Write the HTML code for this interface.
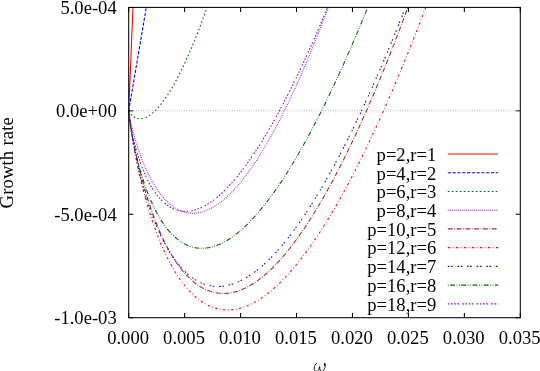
<!DOCTYPE html>
<html><head><meta charset="utf-8"><title>Growth rate</title>
<style>html,body{margin:0;padding:0;background:#fff;}body{width:540px;height:371px;overflow:hidden;}svg{display:block;will-change:transform;opacity:0.999;}text{font-family:"Liberation Serif",serif;font-size:18.6px;fill:#000;}</style></head><body>
<svg width="540" height="371" viewBox="0 0 540 371">
<defs><clipPath id="c"><rect x="128.70" y="7.40" width="391.60" height="310.30"/></clipPath></defs>
<line x1="128.70" y1="110.83" x2="520.30" y2="110.83" stroke="#000" stroke-opacity="0.45" stroke-width="0.8" stroke-dasharray="0.8 1.6"/>
<g clip-path="url(#c)" fill="none" stroke-width="1.08">
<polyline points="128.70,110.83 129.48,91.99 130.27,73.15 131.05,54.32 131.83,35.48 132.62,16.64 133.40,-2.20" stroke="#ff0000"/>
<polyline points="128.70,110.83 129.48,106.23 130.27,101.63 131.05,97.02 131.83,92.42 132.62,87.82 133.40,83.22 134.18,78.61 134.97,74.01 135.75,69.41 136.53,64.81 137.32,60.20 138.10,55.60 138.88,51.00 139.66,46.39 140.45,41.79 141.23,37.19 142.01,32.59 142.80,27.98 143.58,23.38 144.36,18.78 145.15,14.17 145.93,9.57 146.71,4.97 147.50,0.37" stroke="#0000ff" stroke-dasharray="3.20 1.60"/>
<polyline points="128.70,110.83 129.48,112.25 130.27,113.38 131.05,114.33 131.83,115.15 132.62,115.86 133.40,116.46 134.18,116.98 134.97,117.42 135.75,117.78 136.53,118.07 137.32,118.30 138.10,118.47 138.88,118.58 139.66,118.63 140.45,118.63 141.23,118.58 142.01,118.48 142.80,118.34 143.58,118.14 144.36,117.91 145.15,117.63 145.93,117.30 146.71,116.94 147.50,116.54 148.28,116.10 149.06,115.62 149.85,115.11 150.63,114.56 151.41,113.97 152.20,113.35 152.98,112.70 153.76,112.01 154.55,111.29 155.33,110.54 156.11,109.76 156.90,108.95 157.68,108.10 158.46,107.23 159.24,106.33 160.03,105.40 160.81,104.44 161.59,103.45 162.38,102.44 163.16,101.39 163.94,100.33 164.73,99.23 165.51,98.11 166.29,96.96 167.08,95.79 167.86,94.59 168.64,93.37 169.43,92.12 170.21,90.85 170.99,89.56 171.78,88.24 172.56,86.90 173.34,85.53 174.13,84.14 174.91,82.73 175.69,81.30 176.48,79.84 177.26,78.37 178.04,76.87 178.82,75.34 179.61,73.80 180.39,72.24 181.17,70.65 181.96,69.05 182.74,67.42 183.52,65.77 184.31,64.11 185.09,62.42 185.87,60.71 186.66,58.99 187.44,57.24 188.22,55.47 189.01,53.69 189.79,51.88 190.57,50.06 191.36,48.22 192.14,46.36 192.92,44.48 193.71,42.58 194.49,40.66 195.27,38.73 196.06,36.77 196.84,34.80 197.62,32.81 198.40,30.81 199.19,28.78 199.97,26.74 200.75,24.68 201.54,22.61 202.32,20.51 203.10,18.40 203.89,16.28 204.67,14.13 205.45,11.97 206.24,9.79 207.02,7.60 207.80,5.39 208.59,3.16 209.37,0.92" stroke="#006400" stroke-dasharray="1.60 2.40"/>
<polyline points="128.70,110.83 129.48,115.35 130.27,119.26 131.05,122.87 131.83,126.26 132.62,129.46 133.40,132.52 134.18,135.44 134.97,138.24 135.75,140.94 136.53,143.54 137.32,146.05 138.10,148.47 138.88,150.81 139.66,153.08 140.45,155.27 141.23,157.40 142.01,159.47 142.80,161.47 143.58,163.42 144.36,165.30 145.15,167.14 145.93,168.92 146.71,170.65 147.50,172.33 148.28,173.96 149.06,175.55 149.85,177.09 150.63,178.59 151.41,180.04 152.20,181.46 152.98,182.83 153.76,184.16 154.55,185.46 155.33,186.72 156.11,187.94 156.90,189.12 157.68,190.27 158.46,191.39 159.24,192.47 160.03,193.51 160.81,194.53 161.59,195.51 162.38,196.46 163.16,197.38 163.94,198.27 164.73,199.13 165.51,199.96 166.29,200.76 167.08,201.53 167.86,202.28 168.64,202.99 169.43,203.68 170.21,204.34 170.99,204.98 171.78,205.59 172.56,206.17 173.34,206.73 174.13,207.26 174.91,207.77 175.69,208.25 176.48,208.71 177.26,209.14 178.04,209.55 178.82,209.94 179.61,210.31 180.39,210.65 181.17,210.97 181.96,211.26 182.74,211.54 183.52,211.79 184.31,212.02 185.09,212.23 185.87,212.42 186.66,212.58 187.44,212.73 188.22,212.86 189.01,212.96 189.79,213.05 190.57,213.11 191.36,213.16 192.14,213.18 192.92,213.19 193.71,213.18 194.49,213.14 195.27,213.09 196.06,213.02 196.84,212.93 197.62,212.83 198.40,212.70 199.19,212.56 199.97,212.39 200.75,212.22 201.54,212.02 202.32,211.80 203.10,211.57 203.89,211.32 204.67,211.05 205.45,210.77 206.24,210.47 207.02,210.15 207.80,209.82 208.59,209.47 209.37,209.10 210.15,208.72 210.94,208.32 211.72,207.90 212.50,207.47 213.29,207.02 214.07,206.56 214.85,206.08 215.64,205.59 216.42,205.08 217.20,204.55 217.98,204.01 218.77,203.46 219.55,202.89 220.33,202.30 221.12,201.70 221.90,201.08 222.68,200.45 223.47,199.81 224.25,199.15 225.03,198.48 225.82,197.79 226.60,197.09 227.38,196.37 228.17,195.64 228.95,194.90 229.73,194.14 230.52,193.37 231.30,192.58 232.08,191.79 232.87,190.97 233.65,190.15 234.43,189.31 235.22,188.45 236.00,187.59 236.78,186.71 237.56,185.82 238.35,184.91 239.13,183.99 239.91,183.06 240.70,182.12 241.48,181.16 242.26,180.19 243.05,179.21 243.83,178.21 244.61,177.20 245.40,176.18 246.18,175.15 246.96,174.11 247.75,173.05 248.53,171.98 249.31,170.90 250.10,169.80 250.88,168.70 251.66,167.58 252.45,166.45 253.23,165.31 254.01,164.15 254.80,162.99 255.58,161.81 256.36,160.62 257.14,159.42 257.93,158.21 258.71,156.99 259.49,155.75 260.28,154.50 261.06,153.25 261.84,151.98 262.63,150.70 263.41,149.41 264.19,148.10 264.98,146.79 265.76,145.46 266.54,144.13 267.33,142.78 268.11,141.42 268.89,140.05 269.68,138.67 270.46,137.28 271.24,135.88 272.03,134.47 272.81,133.05 273.59,131.61 274.38,130.17 275.16,128.72 275.94,127.25 276.72,125.78 277.51,124.29 278.29,122.79 279.07,121.29 279.86,119.77 280.64,118.24 281.42,116.70 282.21,115.16 282.99,113.60 283.77,112.03 284.56,110.45 285.34,108.87 286.12,107.27 286.91,105.66 287.69,104.04 288.47,102.41 289.26,100.78 290.04,99.13 290.82,97.47 291.61,95.80 292.39,94.13 293.17,92.44 293.96,90.75 294.74,89.04 295.52,87.32 296.30,85.60 297.09,83.87 297.87,82.12 298.65,80.37 299.44,78.61 300.22,76.83 301.00,75.05 301.79,73.26 302.57,71.46 303.35,69.65 304.14,67.83 304.92,66.01 305.70,64.17 306.49,62.32 307.27,60.47 308.05,58.60 308.84,56.73 309.62,54.85 310.40,52.96 311.19,51.06 311.97,49.15 312.75,47.23 313.54,45.30 314.32,43.37 315.10,41.42 315.88,39.47 316.67,37.51 317.45,35.54 318.23,33.56 319.02,31.57 319.80,29.57 320.58,27.57 321.37,25.55 322.15,23.53 322.93,21.50 323.72,19.46 324.50,17.41 325.28,15.35 326.07,13.29 326.85,11.21 327.63,9.13 328.42,7.04 329.20,4.94 329.98,2.83 330.77,0.72" stroke="#9400d3" stroke-dasharray="0.80 1.20"/>
<polyline points="128.70,110.83 129.48,117.26 130.27,122.72 131.05,127.73 131.83,132.42 132.62,136.87 133.40,141.11 134.18,145.18 134.97,149.09 135.75,152.87 136.53,156.52 137.32,160.05 138.10,163.48 138.88,166.81 139.66,170.04 140.45,173.19 141.23,176.25 142.01,179.24 142.80,182.15 143.58,185.00 144.36,187.77 145.15,190.48 145.93,193.13 146.71,195.72 147.50,198.25 148.28,200.72 149.06,203.14 149.85,205.51 150.63,207.82 151.41,210.09 152.20,212.31 152.98,214.49 153.76,216.61 154.55,218.70 155.33,220.74 156.11,222.74 156.90,224.70 157.68,226.62 158.46,228.50 159.24,230.34 160.03,232.14 160.81,233.91 161.59,235.64 162.38,237.33 163.16,239.00 163.94,240.62 164.73,242.22 165.51,243.78 166.29,245.31 167.08,246.81 167.86,248.28 168.64,249.71 169.43,251.12 170.21,252.50 170.99,253.85 171.78,255.17 172.56,256.46 173.34,257.72 174.13,258.96 174.91,260.17 175.69,261.35 176.48,262.51 177.26,263.64 178.04,264.74 178.82,265.82 179.61,266.88 180.39,267.91 181.17,268.92 181.96,269.90 182.74,270.86 183.52,271.79 184.31,272.71 185.09,273.60 185.87,274.46 186.66,275.31 187.44,276.13 188.22,276.93 189.01,277.71 189.79,278.47 190.57,279.21 191.36,279.92 192.14,280.62 192.92,281.29 193.71,281.95 194.49,282.58 195.27,283.20 196.06,283.79 196.84,284.37 197.62,284.93 198.40,285.46 199.19,285.98 199.97,286.48 200.75,286.96 201.54,287.43 202.32,287.87 203.10,288.30 203.89,288.71 204.67,289.10 205.45,289.47 206.24,289.83 207.02,290.16 207.80,290.48 208.59,290.79 209.37,291.08 210.15,291.35 210.94,291.60 211.72,291.84 212.50,292.06 213.29,292.26 214.07,292.45 214.85,292.62 215.64,292.78 216.42,292.92 217.20,293.04 217.98,293.15 218.77,293.25 219.55,293.33 220.33,293.39 221.12,293.44 221.90,293.47 222.68,293.49 223.47,293.49 224.25,293.48 225.03,293.46 225.82,293.42 226.60,293.36 227.38,293.29 228.17,293.21 228.95,293.11 229.73,293.00 230.52,292.88 231.30,292.74 232.08,292.59 232.87,292.42 233.65,292.24 234.43,292.05 235.22,291.84 236.00,291.62 236.78,291.39 237.56,291.14 238.35,290.88 239.13,290.61 239.91,290.32 240.70,290.02 241.48,289.71 242.26,289.39 243.05,289.05 243.83,288.70 244.61,288.34 245.40,287.97 246.18,287.58 246.96,287.18 247.75,286.77 248.53,286.35 249.31,285.91 250.10,285.46 250.88,285.00 251.66,284.53 252.45,284.05 253.23,283.56 254.01,283.05 254.80,282.53 255.58,282.00 256.36,281.46 257.14,280.91 257.93,280.34 258.71,279.77 259.49,279.18 260.28,278.58 261.06,277.97 261.84,277.35 262.63,276.72 263.41,276.08 264.19,275.42 264.98,274.76 265.76,274.08 266.54,273.39 267.33,272.70 268.11,271.99 268.89,271.27 269.68,270.54 270.46,269.80 271.24,269.05 272.03,268.29 272.81,267.52 273.59,266.74 274.38,265.94 275.16,265.14 275.94,264.33 276.72,263.51 277.51,262.67 278.29,261.83 279.07,260.98 279.86,260.11 280.64,259.24 281.42,258.36 282.21,257.46 282.99,256.56 283.77,255.65 284.56,254.73 285.34,253.79 286.12,252.85 286.91,251.90 287.69,250.94 288.47,249.97 289.26,248.99 290.04,248.00 290.82,247.00 291.61,245.99 292.39,244.97 293.17,243.94 293.96,242.91 294.74,241.86 295.52,240.80 296.30,239.74 297.09,238.67 297.87,237.58 298.65,236.49 299.44,235.39 300.22,234.28 301.00,233.16 301.79,232.03 302.57,230.89 303.35,229.75 304.14,228.59 304.92,227.43 305.70,226.26 306.49,225.08 307.27,223.89 308.05,222.69 308.84,221.48 309.62,220.26 310.40,219.04 311.19,217.81 311.97,216.56 312.75,215.31 313.54,214.05 314.32,212.79 315.10,211.51 315.88,210.23 316.67,208.94 317.45,207.63 318.23,206.32 319.02,205.01 319.80,203.68 320.58,202.35 321.37,201.01 322.15,199.66 322.93,198.30 323.72,196.93 324.50,195.56 325.28,194.17 326.07,192.78 326.85,191.38 327.63,189.98 328.42,188.56 329.20,187.14 329.98,185.71 330.77,184.27 331.55,182.82 332.33,181.37 333.12,179.91 333.90,178.44 334.68,176.96 335.46,175.47 336.25,173.98 337.03,172.48 337.81,170.97 338.60,169.46 339.38,167.93 340.16,166.40 340.95,164.86 341.73,163.32 342.51,161.76 343.30,160.20 344.08,158.63 344.86,157.05 345.65,155.47 346.43,153.88 347.21,152.28 348.00,150.67 348.78,149.06 349.56,147.44 350.35,145.81 351.13,144.18 351.91,142.53 352.70,140.88 353.48,139.23 354.26,137.56 355.04,135.89 355.83,134.21 356.61,132.53 357.39,130.84 358.18,129.14 358.96,127.43 359.74,125.71 360.53,123.99 361.31,122.27 362.09,120.53 362.88,118.79 363.66,117.04 364.44,115.28 365.23,113.52 366.01,111.75 366.79,109.97 367.58,108.19 368.36,106.40 369.14,104.60 369.93,102.80 370.71,100.99 371.49,99.17 372.28,97.35 373.06,95.51 373.84,93.68 374.62,91.83 375.41,89.98 376.19,88.12 376.97,86.26 377.76,84.39 378.54,82.51 379.32,80.62 380.11,78.73 380.89,76.84 381.67,74.93 382.46,73.02 383.24,71.10 384.02,69.18 384.81,67.25 385.59,65.31 386.37,63.37 387.16,61.42 387.94,59.47 388.72,57.50 389.51,55.53 390.29,53.56 391.07,51.58 391.86,49.59 392.64,47.60 393.42,45.60 394.20,43.59 394.99,41.58 395.77,39.56 396.55,37.53 397.34,35.50 398.12,33.46 398.90,31.42 399.69,29.37 400.47,27.31 401.25,25.25 402.04,23.18 402.82,21.10 403.60,19.02 404.39,16.94 405.17,14.84 405.95,12.74 406.74,10.64 407.52,8.53 408.30,6.41 409.09,4.29 409.87,2.16 410.65,0.02" stroke="#a52a2a" stroke-dasharray="4.80 1.60 0.80 1.60"/>
<polyline points="128.70,110.83 129.48,118.23 130.27,124.33 131.05,129.88 131.83,135.03 132.62,139.89 133.40,144.51 134.18,148.92 134.97,153.16 135.75,157.23 136.53,161.16 137.32,164.96 138.10,168.64 138.88,172.20 139.66,175.66 140.45,179.03 141.23,182.30 142.01,185.49 142.80,188.60 143.58,191.63 144.36,194.58 145.15,197.46 145.93,200.28 146.71,203.03 147.50,205.71 148.28,208.34 149.06,210.91 149.85,213.42 150.63,215.88 151.41,218.28 152.20,220.64 152.98,222.94 153.76,225.20 154.55,227.41 155.33,229.57 156.11,231.69 156.90,233.77 157.68,235.80 158.46,237.79 159.24,239.74 160.03,241.66 160.81,243.53 161.59,245.37 162.38,247.17 163.16,248.93 163.94,250.66 164.73,252.36 165.51,254.02 166.29,255.64 167.08,257.24 167.86,258.80 168.64,260.33 169.43,261.83 170.21,263.30 170.99,264.74 171.78,266.15 172.56,267.53 173.34,268.88 174.13,270.20 174.91,271.50 175.69,272.77 176.48,274.01 177.26,275.22 178.04,276.41 178.82,277.58 179.61,278.71 180.39,279.83 181.17,280.92 181.96,281.98 182.74,283.02 183.52,284.04 184.31,285.03 185.09,286.00 185.87,286.94 186.66,287.87 187.44,288.77 188.22,289.65 189.01,290.51 189.79,291.34 190.57,292.16 191.36,292.95 192.14,293.73 192.92,294.48 193.71,295.21 194.49,295.92 195.27,296.61 196.06,297.28 196.84,297.94 197.62,298.57 198.40,299.18 199.19,299.78 199.97,300.36 200.75,300.91 201.54,301.45 202.32,301.97 203.10,302.48 203.89,302.96 204.67,303.43 205.45,303.88 206.24,304.31 207.02,304.72 207.80,305.12 208.59,305.50 209.37,305.87 210.15,306.21 210.94,306.54 211.72,306.86 212.50,307.16 213.29,307.44 214.07,307.70 214.85,307.95 215.64,308.19 216.42,308.41 217.20,308.61 217.98,308.80 218.77,308.97 219.55,309.13 220.33,309.27 221.12,309.40 221.90,309.51 222.68,309.61 223.47,309.69 224.25,309.76 225.03,309.82 225.82,309.86 226.60,309.88 227.38,309.90 228.17,309.89 228.95,309.88 229.73,309.85 230.52,309.81 231.30,309.75 232.08,309.68 232.87,309.60 233.65,309.50 234.43,309.39 235.22,309.27 236.00,309.13 236.78,308.98 237.56,308.82 238.35,308.64 239.13,308.45 239.91,308.25 240.70,308.04 241.48,307.82 242.26,307.58 243.05,307.33 243.83,307.07 244.61,306.79 245.40,306.51 246.18,306.21 246.96,305.90 247.75,305.57 248.53,305.24 249.31,304.89 250.10,304.54 250.88,304.17 251.66,303.78 252.45,303.39 253.23,302.99 254.01,302.57 254.80,302.15 255.58,301.71 256.36,301.26 257.14,300.80 257.93,300.33 258.71,299.85 259.49,299.35 260.28,298.85 261.06,298.33 261.84,297.81 262.63,297.27 263.41,296.73 264.19,296.17 264.98,295.60 265.76,295.02 266.54,294.43 267.33,293.83 268.11,293.22 268.89,292.60 269.68,291.97 270.46,291.33 271.24,290.68 272.03,290.02 272.81,289.35 273.59,288.67 274.38,287.98 275.16,287.28 275.94,286.57 276.72,285.85 277.51,285.12 278.29,284.38 279.07,283.63 279.86,282.87 280.64,282.10 281.42,281.32 282.21,280.53 282.99,279.74 283.77,278.93 284.56,278.11 285.34,277.29 286.12,276.45 286.91,275.61 287.69,274.76 288.47,273.90 289.26,273.02 290.04,272.14 290.82,271.25 291.61,270.36 292.39,269.45 293.17,268.53 293.96,267.61 294.74,266.67 295.52,265.73 296.30,264.78 297.09,263.82 297.87,262.85 298.65,261.87 299.44,260.89 300.22,259.89 301.00,258.89 301.79,257.88 302.57,256.85 303.35,255.83 304.14,254.79 304.92,253.74 305.70,252.69 306.49,251.63 307.27,250.55 308.05,249.48 308.84,248.39 309.62,247.29 310.40,246.19 311.19,245.08 311.97,243.96 312.75,242.83 313.54,241.69 314.32,240.55 315.10,239.40 315.88,238.24 316.67,237.07 317.45,235.89 318.23,234.71 319.02,233.52 319.80,232.32 320.58,231.11 321.37,229.90 322.15,228.67 322.93,227.44 323.72,226.20 324.50,224.96 325.28,223.70 326.07,222.44 326.85,221.17 327.63,219.90 328.42,218.62 329.20,217.32 329.98,216.03 330.77,214.72 331.55,213.41 332.33,212.09 333.12,210.76 333.90,209.42 334.68,208.08 335.46,206.73 336.25,205.37 337.03,204.01 337.81,202.63 338.60,201.26 339.38,199.87 340.16,198.48 340.95,197.08 341.73,195.67 342.51,194.25 343.30,192.83 344.08,191.40 344.86,189.97 345.65,188.52 346.43,187.07 347.21,185.62 348.00,184.15 348.78,182.68 349.56,181.21 350.35,179.72 351.13,178.23 351.91,176.73 352.70,175.23 353.48,173.72 354.26,172.20 355.04,170.67 355.83,169.14 356.61,167.60 357.39,166.06 358.18,164.51 358.96,162.95 359.74,161.38 360.53,159.81 361.31,158.24 362.09,156.65 362.88,155.06 363.66,153.46 364.44,151.86 365.23,150.25 366.01,148.63 366.79,147.01 367.58,145.38 368.36,143.74 369.14,142.10 369.93,140.45 370.71,138.79 371.49,137.13 372.28,135.47 373.06,133.79 373.84,132.11 374.62,130.42 375.41,128.73 376.19,127.03 376.97,125.33 377.76,123.61 378.54,121.90 379.32,120.17 380.11,118.44 380.89,116.71 381.67,114.97 382.46,113.22 383.24,111.46 384.02,109.70 384.81,107.94 385.59,106.16 386.37,104.38 387.16,102.60 387.94,100.81 388.72,99.01 389.51,97.21 390.29,95.40 391.07,93.59 391.86,91.77 392.64,89.94 393.42,88.11 394.20,86.27 394.99,84.43 395.77,82.58 396.55,80.73 397.34,78.87 398.12,77.00 398.90,75.13 399.69,73.25 400.47,71.37 401.25,69.48 402.04,67.58 402.82,65.68 403.60,63.77 404.39,61.86 405.17,59.94 405.95,58.02 406.74,56.09 407.52,54.16 408.30,52.22 409.09,50.27 409.87,48.32 410.65,46.36 411.44,44.40 412.22,42.43 413.00,40.46 413.78,38.48 414.57,36.50 415.35,34.51 416.13,32.51 416.92,30.51 417.70,28.51 418.48,26.49 419.27,24.48 420.05,22.45 420.83,20.43 421.62,18.39 422.40,16.36 423.18,14.31 423.97,12.26 424.75,10.21 425.53,8.15 426.32,6.08 427.10,4.01 427.88,1.94 428.67,-0.14" stroke="#ff0000" stroke-dasharray="2.40 2.40 0.80 2.40"/>
<polyline points="128.70,110.83 129.48,118.31 130.27,124.35 131.05,129.78 131.83,134.81 132.62,139.52 133.40,143.97 134.18,148.21 134.97,152.26 135.75,156.15 136.53,159.89 137.32,163.49 138.10,166.97 138.88,170.33 139.66,173.59 140.45,176.75 141.23,179.82 142.01,182.79 142.80,185.69 143.58,188.50 144.36,191.24 145.15,193.91 145.93,196.51 146.71,199.05 147.50,201.52 148.28,203.93 149.06,206.28 149.85,208.57 150.63,210.81 151.41,213.00 152.20,215.14 152.98,217.23 153.76,219.26 154.55,221.26 155.33,223.20 156.11,225.11 156.90,226.96 157.68,228.78 158.46,230.56 159.24,232.29 160.03,233.99 160.81,235.65 161.59,237.27 162.38,238.86 163.16,240.41 163.94,241.92 164.73,243.40 165.51,244.85 166.29,246.26 167.08,247.64 167.86,248.99 168.64,250.31 169.43,251.60 170.21,252.85 170.99,254.08 171.78,255.28 172.56,256.45 173.34,257.59 174.13,258.71 174.91,259.80 175.69,260.86 176.48,261.89 177.26,262.90 178.04,263.88 178.82,264.84 179.61,265.77 180.39,266.68 181.17,267.56 181.96,268.42 182.74,269.26 183.52,270.07 184.31,270.86 185.09,271.63 185.87,272.38 186.66,273.10 187.44,273.80 188.22,274.48 189.01,275.14 189.79,275.77 190.57,276.39 191.36,276.99 192.14,277.56 192.92,278.12 193.71,278.65 194.49,279.17 195.27,279.67 196.06,280.15 196.84,280.60 197.62,281.04 198.40,281.46 199.19,281.87 199.97,282.25 200.75,282.62 201.54,282.97 202.32,283.30 203.10,283.61 203.89,283.91 204.67,284.18 205.45,284.45 206.24,284.69 207.02,284.92 207.80,285.13 208.59,285.32 209.37,285.50 210.15,285.67 210.94,285.81 211.72,285.94 212.50,286.06 213.29,286.16 214.07,286.24 214.85,286.31 215.64,286.36 216.42,286.40 217.20,286.42 217.98,286.43 218.77,286.43 219.55,286.41 220.33,286.37 221.12,286.32 221.90,286.26 222.68,286.18 223.47,286.09 224.25,285.98 225.03,285.86 225.82,285.73 226.60,285.58 227.38,285.42 228.17,285.24 228.95,285.06 229.73,284.86 230.52,284.64 231.30,284.42 232.08,284.18 232.87,283.92 233.65,283.66 234.43,283.38 235.22,283.09 236.00,282.78 236.78,282.47 237.56,282.14 238.35,281.80 239.13,281.45 239.91,281.08 240.70,280.70 241.48,280.32 242.26,279.91 243.05,279.50 243.83,279.08 244.61,278.64 245.40,278.19 246.18,277.73 246.96,277.26 247.75,276.78 248.53,276.29 249.31,275.78 250.10,275.27 250.88,274.74 251.66,274.20 252.45,273.65 253.23,273.09 254.01,272.52 254.80,271.94 255.58,271.35 256.36,270.75 257.14,270.13 257.93,269.51 258.71,268.87 259.49,268.23 260.28,267.57 261.06,266.91 261.84,266.23 262.63,265.54 263.41,264.85 264.19,264.14 264.98,263.42 265.76,262.70 266.54,261.96 267.33,261.21 268.11,260.46 268.89,259.69 269.68,258.91 270.46,258.13 271.24,257.33 272.03,256.53 272.81,255.71 273.59,254.89 274.38,254.05 275.16,253.21 275.94,252.36 276.72,251.50 277.51,250.63 278.29,249.75 279.07,248.86 279.86,247.96 280.64,247.05 281.42,246.13 282.21,245.21 282.99,244.27 283.77,243.33 284.56,242.38 285.34,241.41 286.12,240.44 286.91,239.46 287.69,238.48 288.47,237.48 289.26,236.47 290.04,235.46 290.82,234.44 291.61,233.41 292.39,232.37 293.17,231.32 293.96,230.26 294.74,229.20 295.52,228.12 296.30,227.04 297.09,225.95 297.87,224.85 298.65,223.75 299.44,222.63 300.22,221.51 301.00,220.38 301.79,219.24 302.57,218.09 303.35,216.94 304.14,215.78 304.92,214.61 305.70,213.43 306.49,212.24 307.27,211.04 308.05,209.84 308.84,208.63 309.62,207.41 310.40,206.19 311.19,204.95 311.97,203.71 312.75,202.46 313.54,201.21 314.32,199.94 315.10,198.67 315.88,197.39 316.67,196.11 317.45,194.81 318.23,193.51 319.02,192.20 319.80,190.89 320.58,189.56 321.37,188.23 322.15,186.89 322.93,185.55 323.72,184.19 324.50,182.83 325.28,181.47 326.07,180.09 326.85,178.71 327.63,177.32 328.42,175.93 329.20,174.52 329.98,173.11 330.77,171.70 331.55,170.27 332.33,168.84 333.12,167.40 333.90,165.96 334.68,164.51 335.46,163.05 336.25,161.58 337.03,160.11 337.81,158.63 338.60,157.15 339.38,155.65 340.16,154.15 340.95,152.65 341.73,151.14 342.51,149.62 343.30,148.09 344.08,146.56 344.86,145.02 345.65,143.47 346.43,141.92 347.21,140.36 348.00,138.80 348.78,137.22 349.56,135.65 350.35,134.06 351.13,132.47 351.91,130.87 352.70,129.27 353.48,127.66 354.26,126.04 355.04,124.42 355.83,122.79 356.61,121.15 357.39,119.51 358.18,117.86 358.96,116.21 359.74,114.55 360.53,112.88 361.31,111.21 362.09,109.53 362.88,107.84 363.66,106.15 364.44,104.45 365.23,102.75 366.01,101.04 366.79,99.32 367.58,97.60 368.36,95.87 369.14,94.14 369.93,92.40 370.71,90.65 371.49,88.90 372.28,87.14 373.06,85.38 373.84,83.61 374.62,81.84 375.41,80.06 376.19,78.27 376.97,76.48 377.76,74.68 378.54,72.87 379.32,71.06 380.11,69.25 380.89,67.42 381.67,65.60 382.46,63.76 383.24,61.93 384.02,60.08 384.81,58.23 385.59,56.38 386.37,54.51 387.16,52.65 387.94,50.77 388.72,48.90 389.51,47.01 390.29,45.12 391.07,43.23 391.86,41.33 392.64,39.42 393.42,37.51 394.20,35.60 394.99,33.67 395.77,31.75 396.55,29.81 397.34,27.87 398.12,25.93 398.90,23.98 399.69,22.03 400.47,20.07 401.25,18.10 402.04,16.13 402.82,14.15 403.60,12.17 404.39,10.19 405.17,8.20 405.95,6.20 406.74,4.20 407.52,2.19 408.30,0.18" stroke="#0000ff" stroke-dasharray="1.60 1.60 1.60 4.80"/>
<polyline points="128.70,110.83 129.48,118.13 130.27,123.85 131.05,128.93 131.83,133.58 132.62,137.91 133.40,141.97 134.18,145.82 134.97,149.47 135.75,152.95 136.53,156.29 137.32,159.49 138.10,162.56 138.88,165.52 139.66,168.37 140.45,171.12 141.23,173.78 142.01,176.35 142.80,178.84 143.58,181.25 144.36,183.58 145.15,185.84 145.93,188.04 146.71,190.17 147.50,192.24 148.28,194.25 149.06,196.20 149.85,198.09 150.63,199.93 151.41,201.72 152.20,203.46 152.98,205.15 153.76,206.80 154.55,208.40 155.33,209.95 156.11,211.46 156.90,212.93 157.68,214.35 158.46,215.74 159.24,217.09 160.03,218.40 160.81,219.67 161.59,220.91 162.38,222.11 163.16,223.28 163.94,224.41 164.73,225.51 165.51,226.58 166.29,227.61 167.08,228.61 167.86,229.59 168.64,230.53 169.43,231.44 170.21,232.33 170.99,233.18 171.78,234.01 172.56,234.81 173.34,235.58 174.13,236.33 174.91,237.05 175.69,237.74 176.48,238.41 177.26,239.06 178.04,239.68 178.82,240.27 179.61,240.84 180.39,241.39 181.17,241.92 181.96,242.42 182.74,242.90 183.52,243.35 184.31,243.79 185.09,244.20 185.87,244.59 186.66,244.96 187.44,245.31 188.22,245.64 189.01,245.95 189.79,246.24 190.57,246.51 191.36,246.76 192.14,246.99 192.92,247.20 193.71,247.39 194.49,247.57 195.27,247.72 196.06,247.86 196.84,247.98 197.62,248.08 198.40,248.16 199.19,248.22 199.97,248.27 200.75,248.30 201.54,248.32 202.32,248.31 203.10,248.29 203.89,248.26 204.67,248.20 205.45,248.13 206.24,248.05 207.02,247.95 207.80,247.83 208.59,247.70 209.37,247.55 210.15,247.39 210.94,247.21 211.72,247.02 212.50,246.81 213.29,246.59 214.07,246.35 214.85,246.10 215.64,245.83 216.42,245.55 217.20,245.26 217.98,244.95 218.77,244.63 219.55,244.29 220.33,243.94 221.12,243.58 221.90,243.20 222.68,242.81 223.47,242.41 224.25,241.99 225.03,241.56 225.82,241.12 226.60,240.66 227.38,240.19 228.17,239.71 228.95,239.22 229.73,238.71 230.52,238.19 231.30,237.66 232.08,237.12 232.87,236.57 233.65,236.00 234.43,235.42 235.22,234.83 236.00,234.23 236.78,233.61 237.56,232.99 238.35,232.35 239.13,231.70 239.91,231.04 240.70,230.37 241.48,229.69 242.26,228.99 243.05,228.29 243.83,227.57 244.61,226.84 245.40,226.11 246.18,225.36 246.96,224.60 247.75,223.83 248.53,223.05 249.31,222.25 250.10,221.45 250.88,220.64 251.66,219.82 252.45,218.98 253.23,218.14 254.01,217.29 254.80,216.42 255.58,215.55 256.36,214.67 257.14,213.77 257.93,212.87 258.71,211.96 259.49,211.03 260.28,210.10 261.06,209.16 261.84,208.21 262.63,207.25 263.41,206.27 264.19,205.29 264.98,204.30 265.76,203.31 266.54,202.30 267.33,201.28 268.11,200.25 268.89,199.22 269.68,198.17 270.46,197.12 271.24,196.05 272.03,194.98 272.81,193.90 273.59,192.81 274.38,191.71 275.16,190.60 275.94,189.49 276.72,188.36 277.51,187.23 278.29,186.08 279.07,184.93 279.86,183.77 280.64,182.61 281.42,181.43 282.21,180.24 282.99,179.05 283.77,177.85 284.56,176.64 285.34,175.42 286.12,174.20 286.91,172.96 287.69,171.72 288.47,170.47 289.26,169.21 290.04,167.94 290.82,166.67 291.61,165.39 292.39,164.09 293.17,162.80 293.96,161.49 294.74,160.18 295.52,158.85 296.30,157.52 297.09,156.19 297.87,154.84 298.65,153.49 299.44,152.13 300.22,150.76 301.00,149.39 301.79,148.00 302.57,146.61 303.35,145.22 304.14,143.81 304.92,142.40 305.70,140.98 306.49,139.55 307.27,138.12 308.05,136.67 308.84,135.23 309.62,133.77 310.40,132.31 311.19,130.84 311.97,129.36 312.75,127.87 313.54,126.38 314.32,124.88 315.10,123.38 315.88,121.86 316.67,120.34 317.45,118.82 318.23,117.28 319.02,115.74 319.80,114.20 320.58,112.64 321.37,111.08 322.15,109.51 322.93,107.94 323.72,106.36 324.50,104.77 325.28,103.18 326.07,101.58 326.85,99.97 327.63,98.35 328.42,96.73 329.20,95.11 329.98,93.47 330.77,91.83 331.55,90.19 332.33,88.53 333.12,86.87 333.90,85.21 334.68,83.53 335.46,81.86 336.25,80.17 337.03,78.48 337.81,76.78 338.60,75.08 339.38,73.37 340.16,71.65 340.95,69.93 341.73,68.20 342.51,66.47 343.30,64.73 344.08,62.98 344.86,61.23 345.65,59.47 346.43,57.70 347.21,55.93 348.00,54.15 348.78,52.37 349.56,50.58 350.35,48.78 351.13,46.98 351.91,45.18 352.70,43.36 353.48,41.54 354.26,39.72 355.04,37.89 355.83,36.05 356.61,34.21 357.39,32.36 358.18,30.51 358.96,28.65 359.74,26.79 360.53,24.91 361.31,23.04 362.09,21.16 362.88,19.27 363.66,17.38 364.44,15.48 365.23,13.57 366.01,11.66 366.79,9.75 367.58,7.82 368.36,5.90 369.14,3.97 369.93,2.03 370.71,0.08" stroke="#006400" stroke-dasharray="0.80 1.60 4.80 1.60 0.80 1.60"/>
<polyline points="128.70,110.83 129.48,117.51 130.27,122.64 131.05,127.14 131.83,131.22 132.62,134.99 133.40,138.50 134.18,141.80 134.97,144.92 135.75,147.87 136.53,150.68 137.32,153.36 138.10,155.91 138.88,158.36 139.66,160.70 140.45,162.95 141.23,165.11 142.01,167.19 142.80,169.19 143.58,171.11 144.36,172.96 145.15,174.74 145.93,176.46 146.71,178.11 147.50,179.71 148.28,181.25 149.06,182.73 149.85,184.16 150.63,185.54 151.41,186.87 152.20,188.15 152.98,189.38 153.76,190.57 154.55,191.72 155.33,192.83 156.11,193.89 156.90,194.91 157.68,195.90 158.46,196.84 159.24,197.75 160.03,198.63 160.81,199.46 161.59,200.27 162.38,201.04 163.16,201.77 163.94,202.48 164.73,203.15 165.51,203.79 166.29,204.41 167.08,204.99 167.86,205.54 168.64,206.07 169.43,206.56 170.21,207.03 170.99,207.47 171.78,207.89 172.56,208.28 173.34,208.64 174.13,208.98 174.91,209.29 175.69,209.58 176.48,209.85 177.26,210.09 178.04,210.31 178.82,210.50 179.61,210.68 180.39,210.83 181.17,210.95 181.96,211.06 182.74,211.15 183.52,211.21 184.31,211.25 185.09,211.28 185.87,211.28 186.66,211.26 187.44,211.23 188.22,211.17 189.01,211.09 189.79,211.00 190.57,210.89 191.36,210.76 192.14,210.61 192.92,210.44 193.71,210.25 194.49,210.05 195.27,209.83 196.06,209.59 196.84,209.33 197.62,209.06 198.40,208.77 199.19,208.47 199.97,208.14 200.75,207.81 201.54,207.45 202.32,207.08 203.10,206.70 203.89,206.29 204.67,205.88 205.45,205.44 206.24,205.00 207.02,204.54 207.80,204.06 208.59,203.57 209.37,203.06 210.15,202.54 210.94,202.01 211.72,201.46 212.50,200.89 213.29,200.32 214.07,199.73 214.85,199.12 215.64,198.50 216.42,197.87 217.20,197.23 217.98,196.57 218.77,195.90 219.55,195.22 220.33,194.52 221.12,193.81 221.90,193.09 222.68,192.35 223.47,191.60 224.25,190.85 225.03,190.07 225.82,189.29 226.60,188.49 227.38,187.68 228.17,186.86 228.95,186.03 229.73,185.19 230.52,184.33 231.30,183.47 232.08,182.59 232.87,181.70 233.65,180.80 234.43,179.89 235.22,178.96 236.00,178.03 236.78,177.08 237.56,176.13 238.35,175.16 239.13,174.18 239.91,173.19 240.70,172.19 241.48,171.18 242.26,170.16 243.05,169.13 243.83,168.09 244.61,167.04 245.40,165.98 246.18,164.91 246.96,163.82 247.75,162.73 248.53,161.63 249.31,160.52 250.10,159.40 250.88,158.27 251.66,157.12 252.45,155.97 253.23,154.81 254.01,153.64 254.80,152.46 255.58,151.27 256.36,150.08 257.14,148.87 257.93,147.65 258.71,146.43 259.49,145.19 260.28,143.95 261.06,142.69 261.84,141.43 262.63,140.16 263.41,138.88 264.19,137.59 264.98,136.29 265.76,134.98 266.54,133.67 267.33,132.34 268.11,131.01 268.89,129.67 269.68,128.32 270.46,126.96 271.24,125.59 272.03,124.22 272.81,122.83 273.59,121.44 274.38,120.04 275.16,118.63 275.94,117.22 276.72,115.79 277.51,114.36 278.29,112.92 279.07,111.47 279.86,110.01 280.64,108.55 281.42,107.07 282.21,105.59 282.99,104.10 283.77,102.61 284.56,101.10 285.34,99.59 286.12,98.07 286.91,96.54 287.69,95.01 288.47,93.47 289.26,91.92 290.04,90.36 290.82,88.79 291.61,87.22 292.39,85.64 293.17,84.05 293.96,82.46 294.74,80.86 295.52,79.25 296.30,77.63 297.09,76.01 297.87,74.38 298.65,72.74 299.44,71.09 300.22,69.44 301.00,67.78 301.79,66.12 302.57,64.44 303.35,62.76 304.14,61.08 304.92,59.38 305.70,57.68 306.49,55.97 307.27,54.26 308.05,52.54 308.84,50.81 309.62,49.07 310.40,47.33 311.19,45.58 311.97,43.83 312.75,42.07 313.54,40.30 314.32,38.52 315.10,36.74 315.88,34.95 316.67,33.16 317.45,31.36 318.23,29.55 319.02,27.74 319.80,25.92 320.58,24.09 321.37,22.26 322.15,20.42 322.93,18.57 323.72,16.72 324.50,14.87 325.28,13.00 326.07,11.13 326.85,9.25 327.63,7.37 328.42,5.48 329.20,3.59 329.98,1.69 330.77,-0.22" stroke="#9400d3" stroke-dasharray="1.60 1.60 1.60 1.60 1.60 1.60 1.60 3.20"/>
</g>
<g stroke="#000" stroke-width="1.05" fill="none">
<rect x="128.70" y="7.40" width="391.60" height="310.30"/>
<path d="M128.70 317.70v-4.60M128.70 7.40v4.60"/>
<path d="M184.64 317.70v-4.60M184.64 7.40v4.60"/>
<path d="M240.59 317.70v-4.60M240.59 7.40v4.60"/>
<path d="M296.53 317.70v-4.60M296.53 7.40v4.60"/>
<path d="M352.47 317.70v-4.60M352.47 7.40v4.60"/>
<path d="M408.41 317.70v-4.60M408.41 7.40v4.60"/>
<path d="M464.36 317.70v-4.60M464.36 7.40v4.60"/>
<path d="M520.30 317.70v-4.60M520.30 7.40v4.60"/>
<path d="M128.70 7.40h4.60M520.30 7.40h-4.60"/>
<path d="M128.70 110.83h4.60M520.30 110.83h-4.60" stroke-opacity="0.6" stroke-width="1.5"/>
<path d="M128.70 214.27h4.60M520.30 214.27h-4.60"/>
<path d="M128.70 317.70h4.60M520.30 317.70h-4.60"/>
</g>
<text x="128.10" y="343.5" text-anchor="middle">0.000</text>
<text x="184.04" y="343.5" text-anchor="middle">0.005</text>
<text x="239.99" y="343.5" text-anchor="middle">0.010</text>
<text x="295.93" y="343.5" text-anchor="middle">0.015</text>
<text x="351.87" y="343.5" text-anchor="middle">0.020</text>
<text x="407.81" y="343.5" text-anchor="middle">0.025</text>
<text x="463.76" y="343.5" text-anchor="middle">0.030</text>
<text x="519.70" y="343.5" text-anchor="middle">0.035</text>
<text x="116.7" y="13.80" text-anchor="end">5.0e-04</text>
<text x="116.7" y="117.23" text-anchor="end">0.0e+00</text>
<text x="116.7" y="220.67" text-anchor="end">-5.0e-04</text>
<text x="116.7" y="324.10" text-anchor="end">-1.0e-03</text>
<text transform="translate(12.8,162.8) rotate(-90)" text-anchor="middle" letter-spacing="0.13" word-spacing="0.5">Growth rate</text>
<path d="M316.6 363.3 C315.2 364.2 314.3 366.2 314.2 368.0 C314.1 370.2 315.0 371.3 316.5 371.3 C318.1 371.3 319.3 369.8 319.7 366.4 C319.6 369.8 320.2 371.3 321.8 371.3 C323.6 371.3 325.0 368.8 325.2 365.6" fill="none" stroke="#000" stroke-width="0.95" stroke-linecap="round"/>
<ellipse cx="324.8" cy="364.4" rx="0.95" ry="1.5" fill="#000" transform="rotate(-15 324.8 364.4)"/>
<text x="436.3" y="160.80" text-anchor="end">p=2,r=1</text>
<line x1="447.8" y1="154.00" x2="498.1" y2="154.00" stroke="#ff0000" stroke-width="1.15"/>
<text x="436.3" y="179.53" text-anchor="end">p=4,r=2</text>
<line x1="447.8" y1="172.73" x2="498.1" y2="172.73" stroke="#0000ff" stroke-width="1.15" stroke-dasharray="3.20 1.60"/>
<text x="436.3" y="198.26" text-anchor="end">p=6,r=3</text>
<line x1="447.8" y1="191.46" x2="498.1" y2="191.46" stroke="#006400" stroke-width="1.15" stroke-dasharray="1.60 2.40"/>
<text x="436.3" y="216.99" text-anchor="end">p=8,r=4</text>
<line x1="447.8" y1="210.19" x2="498.1" y2="210.19" stroke="#9400d3" stroke-width="1.15" stroke-dasharray="0.80 1.20"/>
<text x="436.3" y="235.72" text-anchor="end">p=10,r=5</text>
<line x1="447.8" y1="228.92" x2="498.1" y2="228.92" stroke="#a52a2a" stroke-width="1.15" stroke-dasharray="4.80 1.60 0.80 1.60"/>
<text x="436.3" y="254.45" text-anchor="end">p=12,r=6</text>
<line x1="447.8" y1="247.65" x2="498.1" y2="247.65" stroke="#ff0000" stroke-width="1.15" stroke-dasharray="2.40 2.40 0.80 2.40"/>
<text x="436.3" y="273.18" text-anchor="end">p=14,r=7</text>
<line x1="447.8" y1="266.38" x2="498.1" y2="266.38" stroke="#0000ff" stroke-width="1.15" stroke-dasharray="1.60 1.60 1.60 4.80"/>
<text x="436.3" y="291.91" text-anchor="end">p=16,r=8</text>
<line x1="447.8" y1="285.11" x2="498.1" y2="285.11" stroke="#006400" stroke-width="1.15" stroke-dasharray="0.80 1.60 4.80 1.60 0.80 1.60"/>
<text x="436.3" y="310.64" text-anchor="end">p=18,r=9</text>
<line x1="447.8" y1="303.84" x2="498.1" y2="303.84" stroke="#9400d3" stroke-width="1.15" stroke-dasharray="1.60 1.60 1.60 1.60 1.60 1.60 1.60 3.20"/>
</svg></body></html>
